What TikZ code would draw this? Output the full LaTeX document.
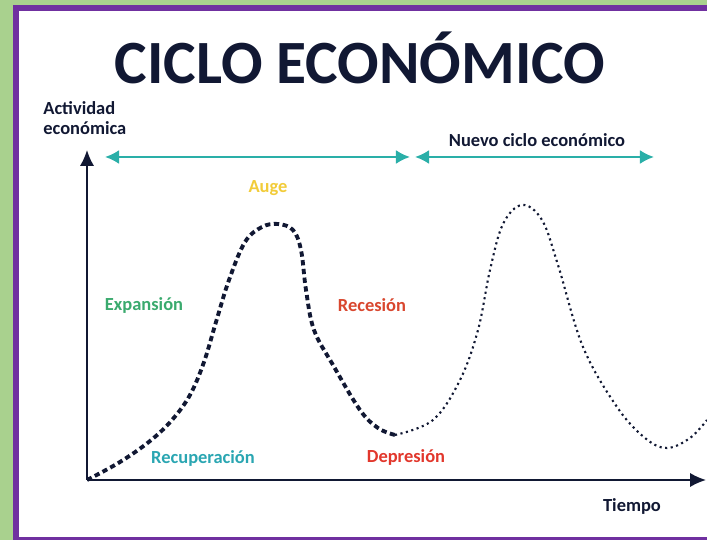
\documentclass[tikz,border=0pt]{standalone}
\usepackage{fontspec}
\setmainfont{Carlito}
\usepackage{xcolor}
\usepackage{tikz}
\usetikzlibrary{arrows.meta}
\usetikzlibrary{calc}
\definecolor{framegreen}{HTML}{A9D18E}
\definecolor{framepurple}{HTML}{7030A0}
\definecolor{titlecolor}{HTML}{111833}
\definecolor{arrowcolor}{HTML}{2AAFA8}
\definecolor{augecolor}{HTML}{F2CC3A}
\definecolor{expcolor}{HTML}{3AAA6E}
\definecolor{rececolor}{HTML}{D9472F}
\definecolor{recucolor}{HTML}{2AA6B2}
\definecolor{depcolor}{HTML}{E2372C}

\tikzset{
  lbl/.style={font=\bfseries\fontsize{10.5}{12}\selectfont, inner sep=0pt},
  axis/.style={titlecolor, line width=0.9pt, -{Latex[length=9pt,width=8pt]}},
  span/.style={arrowcolor, line width=1.4pt, {Latex[length=8pt,width=8pt]}-{Latex[length=8pt,width=8pt]}},
}

\begin{document}
\begin{tikzpicture}[x=0.02cm,y=-0.02cm]
%% frame
\fill[framegreen] (0,0) rectangle (707,540);
\fill[framepurple] (13,5) rectangle (707,540);
\fill[white] (19,11) rectangle (707,537);
\useasboundingbox (0,0) rectangle (707,540);
%% title
\node[font=\bfseries\fontsize{35}{40}\selectfont, text=titlecolor, inner sep=0pt] (title) at (360,58) {CICLO ECONÓMICO};
%% axes
\coordinate (origin) at (87,480);
\coordinate (ytop) at (87,150);
\coordinate (xend) at (706,480);
\draw[axis] (origin) -- (ytop);
\draw[axis] (origin) -- (xend);
\node[lbl, text=titlecolor, align=left, anchor=west] (yname) at (43,118) {Actividad\\[-1pt]económica};
\node[lbl, text=titlecolor] (xname) at (632,506) {Tiempo};
%% cycle spans
\coordinate (spanA) at (105,157);
\coordinate (spanB) at (410,157);
\coordinate (spanC) at (415,157);
\coordinate (spanD) at (654,157);
\draw[span] (spanA) -- (spanB);
\draw[span] (spanC) -- (spanD);
\node[lbl, text=titlecolor] (nuevo) at (537,140) {Nuevo ciclo económico};
%% phases
\node[lbl, text=augecolor] (auge) at (268,188) {Auge};
\node[lbl, text=expcolor] (expansion) at (144,305) {Expansión};
\node[lbl, text=rececolor] (recesion) at (372,305) {Recesión};
\node[lbl, text=recucolor] (recuperacion) at (203,458) {Recuperación};
\node[lbl, text=depcolor] (depresion) at (406,457) {Depresión};
%% curves
\draw[titlecolor, line width=2.2pt, dash pattern=on 3pt off 2pt, smooth, tension=0.6]
  plot coordinates {(87,480) (120,462) (150,441) (172,420) (190,395) (204,362)
  (216,322) (229,280) (245,242) (262,227) (278,224) (293,230) (301,250)
  (306,290) (314,330) (333,365) (360,410) (378,428) (395,435)};
\draw[titlecolor, line width=1.2pt, dotted, smooth, tension=0.6]
  plot coordinates {(395,435) (433,420) (460,380) (478,330) (490,270)
  (503,224) (522,205) (542,220) (558,265) (583,347) (617,407) (645,438)
  (667,448) (690,438) (707,420)};
\end{tikzpicture}
\end{document}
